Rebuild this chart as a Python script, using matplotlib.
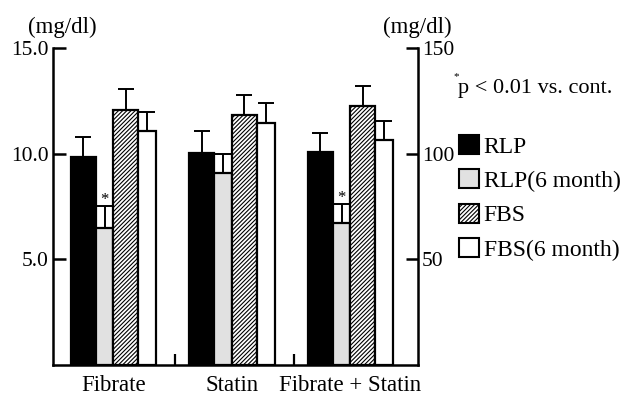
import matplotlib
matplotlib.use('Agg')
import matplotlib.pyplot as plt
import numpy as np
from matplotlib.patches import Patch

plt.rcParams['font.family'] = ['Liberation Serif', 'DejaVu Serif']
plt.rcParams['hatch.linewidth'] = 0.8

# ---- data ----
categories = ['Fibrate', 'Statin', 'Fibrate + Statin']
rlp = [9.85, 10.05, 10.1]
rlp_err = [0.95, 1.0, 0.9]
rlp6 = [6.5, 9.1, 6.7]
rlp6_err = [1.02, 0.88, 0.92]
fbs = [120.5, 118.4, 122.4]       # right axis (mg/dl)
fbs_err = [10.0, 9.5, 9.5]
fbs6 = [110.5, 114.4, 106.5]
fbs6_err = [9.2, 9.7, 8.9]
sig_rlp6 = [True, False, True]
legend_labels = ['RLP', 'RLP(6 month)', 'FBS', 'FBS(6 month)']
left_ticks = [5, 10, 15]
left_ticklabels = ['5.0', '10.0', '15.0']
right_ticks = [50, 100, 150]

W, H = 620, 396
fig = plt.figure(figsize=(W / 100, H / 100), dpi=100)
ax = fig.add_axes([53 / W, 1 - 365 / H, (418 - 53) / W, (365 - 48) / H])
ax2 = ax.twinx()

x = np.arange(len(categories))
# offsets (left edge) and widths for each series
specs = [(-0.36, 0.21), (-0.15, 0.15), (0.0, 0.21), (0.21, 0.15)]
lw = 1.6
gray = '#e1e1e1'
hatch = '////////'

def draw(axis, vals, errs, spec, **kw):
    off, w = spec
    axis.bar(x + off, vals, width=w, align='edge', edgecolor='black',
             linewidth=lw, **kw)
    xc = x + off + w / 2
    axis.errorbar(xc, vals, yerr=[np.zeros(len(vals)), errs], fmt='none',
                  ecolor='black', elinewidth=1.4, capsize=6, capthick=1.4)
    return xc

draw(ax, rlp, rlp_err, specs[0], color='black')
xc_g = draw(ax, rlp6, rlp6_err, specs[1], color=gray)
for xi, v, e, s in zip(xc_g, rlp6, rlp6_err, sig_rlp6):
    if s:
        ax.text(xi, v + e - 0.1, '*', ha='center', va='bottom', fontsize=12)
draw(ax2, fbs, fbs_err, specs[2], color='white', hatch=hatch)
draw(ax2, fbs6, fbs6_err, specs[3], color='white')

ax.set_xlim(-0.51, 2.57)
ax.set_ylim(0, 15)
ax2.set_ylim(0, 150)

ax.set_yticks(left_ticks)
ax.set_yticklabels(left_ticklabels)
ax2.set_yticks(right_ticks)

for a in (ax, ax2):
    a.tick_params(axis='y', direction='in', length=9, width=1.8, labelsize=15.5, pad=3)
    for s in a.spines.values():
        s.set_linewidth(1.8)
ax.spines['top'].set_visible(False)
ax.spines['right'].set_visible(False)
ax2.spines['top'].set_visible(False)
ax2.spines['left'].set_visible(False)
ax2.spines['bottom'].set_visible(False)

ax.set_xticks([0.52, 1.52])
ax.set_xticklabels([])
ax.tick_params(axis='x', which='major', direction='in', length=8, width=1.6)
ax.set_xticks(x, minor=True)
ax.set_xticklabels(categories, minor=True)
ax.tick_params(axis='x', which='minor', length=0, pad=7, labelsize=16.5)

fig.text(28 / W, 1 - 27 / H, '(mg/dl)', fontsize=16.5, va='center', ha='left')
fig.text(383 / W, 1 - 27 / H, '(mg/dl)', fontsize=16.5, va='center', ha='left')
fig.text(453 / W, 1 - 77 / H, '*', fontsize=8, va='center', ha='left')
fig.text(458 / W, 1 - 89 / H, 'p < 0.01 vs. cont.', fontsize=16, va='center', ha='left')

handles = [Patch(facecolor='black', edgecolor='black', linewidth=1.5),
           Patch(facecolor=gray, edgecolor='black', linewidth=1.5),
           Patch(facecolor='white', edgecolor='black', hatch=hatch, linewidth=1.5),
           Patch(facecolor='white', edgecolor='black', linewidth=1.5)]
fig.legend(handles, legend_labels, loc='upper left',
           bbox_to_anchor=(459 / W, 1 - 135 / H), frameon=False, fontsize=17,
           handlelength=0.85, handleheight=0.85, handletextpad=0.2,
           labelspacing=0.5, borderpad=0, borderaxespad=0)

fig.savefig('out.png', dpi=100)
